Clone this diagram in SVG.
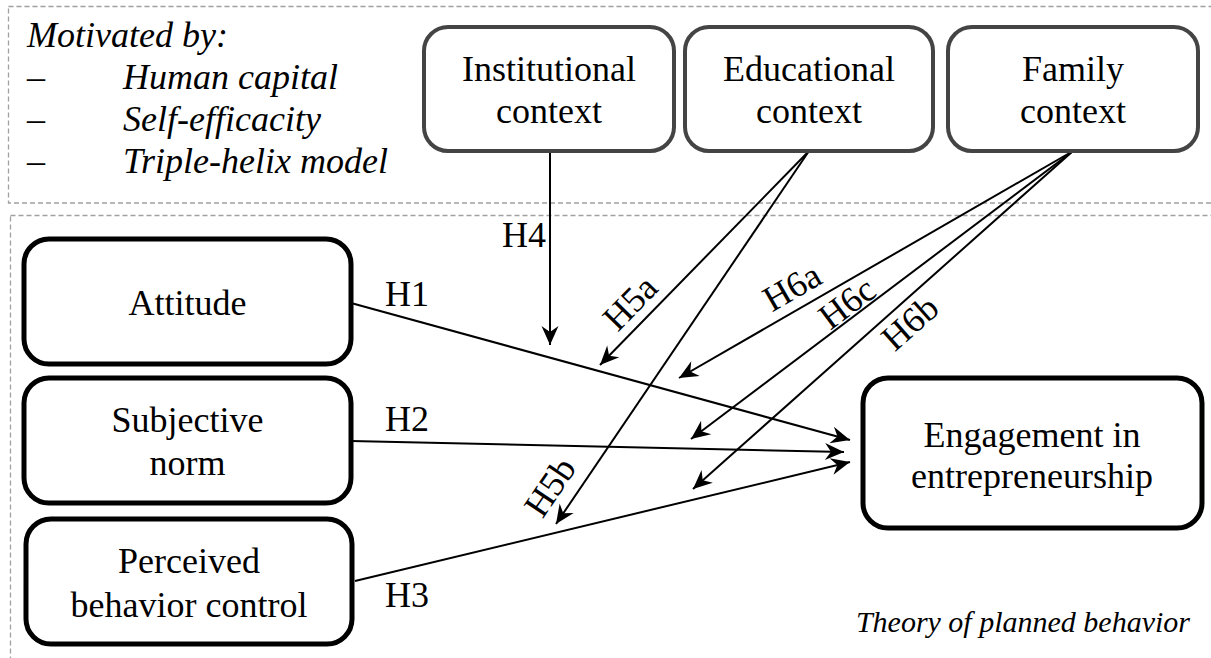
<svg xmlns="http://www.w3.org/2000/svg" width="1211" height="658" viewBox="0 0 1211 658" font-family="Liberation Serif, Times New Roman, serif">
<style>
.frame{fill:none;stroke:#a0a0a0;stroke-width:1.3;stroke-dasharray:5,3}
.ctx{fill:#fff;stroke:#444;stroke-width:4}
.box{fill:#fff;stroke:#000;stroke-width:5}
.t{font-size:36px;fill:#000}
.c{text-anchor:middle}
.i{font-style:italic}
.lbl{font-size:36px;fill:#000;text-anchor:middle;dominant-baseline:central}
.ln{fill:none;stroke:#000;stroke-width:2}
.ar{marker-end:url(#ah)}
</style>
<defs>
<marker id="ah" markerUnits="userSpaceOnUse" markerWidth="24" markerHeight="20" viewBox="-20 -10 22 20" refX="0" refY="0" orient="auto">
<path d="M0,0 L-19,-8.5 L-13,0 L-19,8.5 z" fill="#000"/>
</marker>
</defs>
<rect width="1211" height="658" fill="#fff"/>
<rect class="frame" x="8.5" y="6.5" width="1215" height="196.5"/>
<rect class="frame" x="10.5" y="215.5" width="1215" height="460"/>
<g id="motivation">
<text class="t i" x="27" y="47">Motivated by:</text>
<text class="t" x="27" y="89">–</text>
<text class="t i" x="123" y="89">Human capital</text>
<text class="t" x="27" y="131">–</text>
<text class="t i" x="123" y="131">Self-efficacity</text>
<text class="t" x="27" y="173">–</text>
<text class="t i" x="123" y="173">Triple-helix model</text>
</g>
<g id="connectors">
<line class="ln ar" x1="550" y1="151" x2="550" y2="345"/>
<line class="ln ar" x1="809" y1="151" x2="600" y2="365"/>
<line class="ln ar" x1="809" y1="151" x2="556" y2="524"/>
<line class="ln ar" x1="1073" y1="151" x2="679" y2="378"/>
<line class="ln ar" x1="1073" y1="151" x2="691" y2="439"/>
<line class="ln ar" x1="1073" y1="151" x2="693" y2="489"/>
<line class="ln ar" x1="351" y1="303" x2="850" y2="440"/>
<line class="ln ar" x1="351" y1="441" x2="844" y2="452"/>
<line class="ln ar" x1="355" y1="581" x2="850" y2="462"/>
<text class="t" x="385" y="306">H1</text>
<text class="t" x="385" y="431">H2</text>
<text class="t" x="385" y="607">H3</text>
<text class="t" x="502" y="247">H4</text>
<text class="lbl" transform="translate(630,303) rotate(-45.7)">H5a</text>
<text class="lbl" transform="translate(550,487) rotate(-55.8)">H5b</text>
<text class="lbl" transform="translate(792,287) rotate(-30)">H6a</text>
<text class="lbl" transform="translate(847,303) rotate(-37)">H6c</text>
<text class="lbl" transform="translate(910,323) rotate(-41.6)">H6b</text>
</g>
<g id="institutional">
<rect class="ctx" x="424" y="27" width="250" height="124" rx="24"/>
<text class="t c" x="549" y="81">Institutional</text>
<text class="t c" x="549" y="123">context</text>
</g>
<g id="educational">
<rect class="ctx" x="685" y="27" width="248" height="124" rx="24"/>
<text class="t c" x="809" y="81">Educational</text>
<text class="t c" x="809" y="123">context</text>
</g>
<g id="family">
<rect class="ctx" x="948" y="27" width="250" height="124" rx="24"/>
<text class="t c" x="1073" y="81">Family</text>
<text class="t c" x="1073" y="123">context</text>
</g>
<g id="attitude">
<rect class="box" x="24" y="239" width="327" height="125" rx="25"/>
<text class="t c" x="187.5" y="315">Attitude</text>
</g>
<g id="subjective">
<rect class="box" x="24" y="378" width="327" height="125" rx="25"/>
<text class="t c" x="187.5" y="432">Subjective</text>
<text class="t c" x="187.5" y="475">norm</text>
</g>
<g id="perceived">
<rect class="box" x="26" y="519" width="326" height="125" rx="25"/>
<text class="t c" x="189" y="573">Perceived</text>
<text class="t c" x="189" y="617">behavior control</text>
</g>
<g id="engagement">
<rect class="box" x="863" y="378" width="339" height="150" rx="25"/>
<text class="t c" x="1032" y="447">Engagement in</text>
<text class="t c" x="1032" y="488">entrepreneurship</text>
</g>
<text class="t i" x="1190" y="632" text-anchor="end" font-size="30" style="font-size:30px">Theory of planned behavior</text>
</svg>
